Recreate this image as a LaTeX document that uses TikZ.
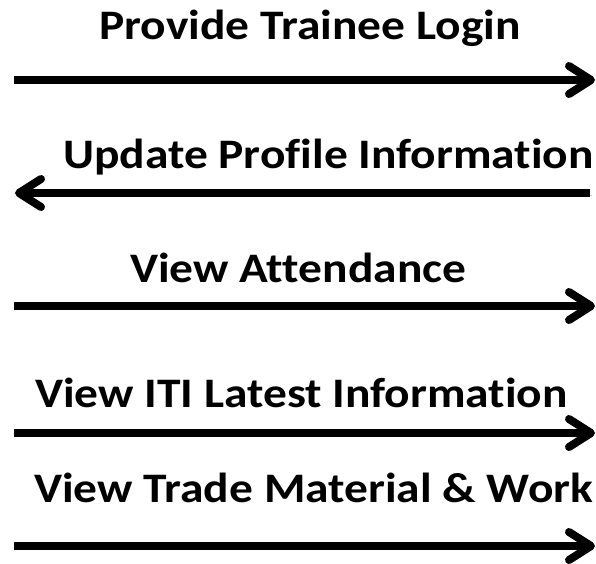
\documentclass[tikz,border=0pt]{standalone}
\usepackage{fontspec}
\setmainfont[Ligatures=NoCommon, FakeStretch=1.13]{Carlito}
\usetikzlibrary{arrows.meta}

\tikzset{
  msg/.style={anchor=base west, inner sep=0pt, font=\fontsize{42}{50}\selectfont\bfseries},
  flow/.style={line width=8pt, -{Straight Barb[length=22pt, width=28pt, round]},
    preaction={draw=black!22, transform canvas={shift={(1.5pt,-2.5pt)}}}}
}

\begin{document}
\begin{tikzpicture}[x=10pt, y=-10pt]
  \useasboundingbox (0,0) rectangle (59.6,56.3);

  \node[msg] (login) at (9.9,3.9) {Provide Trainee Login};
  \node[msg] (profile) at (6.3,16.8) {Update Profile Information};
  \node[msg] (attend) at (13.0,28.2) {View Attendance};
  \node[msg] (latest) at (3.5,40.7) {View ITI Latest Information};
  \node[msg] (trade) at (3.4,50.2) {View Trade Material \& Work};

  \coordinate (l1) at (1.4,8.0);  \coordinate (r1) at (59.5,8.0);
  \coordinate (l2) at (1.5,19.3); \coordinate (r2) at (59.0,19.3);
  \coordinate (l3) at (1.4,30.6); \coordinate (r3) at (59.5,30.6);
  \coordinate (l4) at (1.4,43.3); \coordinate (r4) at (59.5,43.3);
  \coordinate (l5) at (1.4,54.6); \coordinate (r5) at (59.5,54.6);

  \draw[flow] (l1) -- (r1);
  \draw[flow] (r2) -- (l2);
  \draw[flow] (l3) -- (r3);
  \draw[flow] (l4) -- (r4);
  \draw[flow] (l5) -- (r5);
\end{tikzpicture}
\end{document}
